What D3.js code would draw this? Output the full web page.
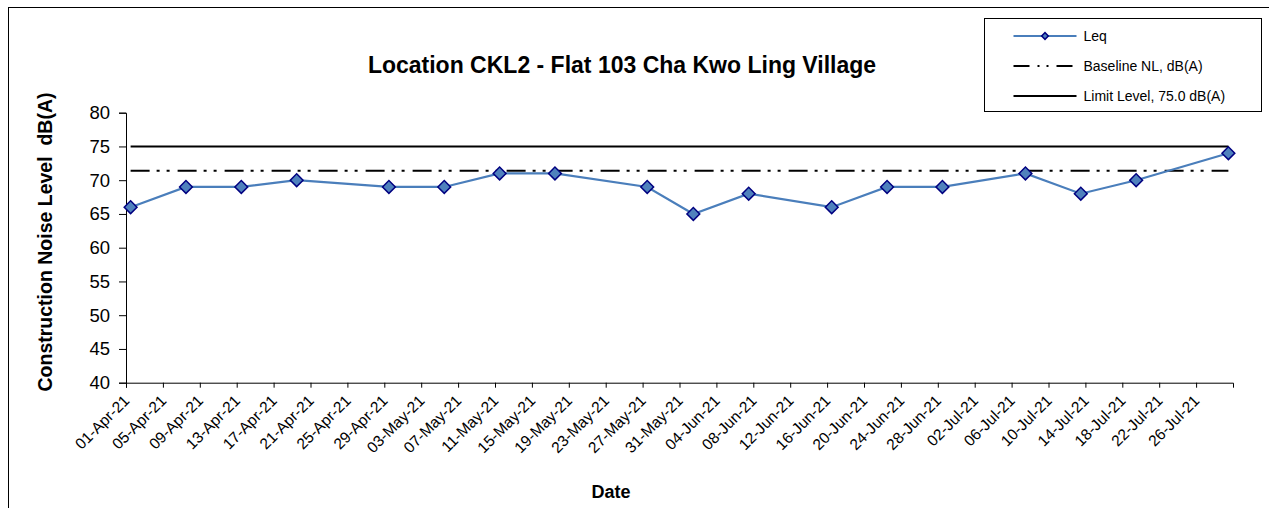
<!DOCTYPE html>
<html>
<head>
<meta charset="utf-8">
<script src="https://cdn.jsdelivr.net/npm/d3@7"></script>
<style>
  body { margin: 0; background: #fff; }
  text { font-family: "Liberation Sans", Arial, sans-serif; fill: #000; }
</style>
</head>
<body>
<div class="chartContainer"></div>
<script>
// measurement dates and Leq readings, dB(A)
var dates = ["01-Apr-21", "07-Apr-21", "13-Apr-21", "19-Apr-21", "29-Apr-21", "05-May-21",
             "11-May-21", "17-May-21", "27-May-21", "01-Jun-21", "07-Jun-21", "16-Jun-21",
             "22-Jun-21", "28-Jun-21", "07-Jul-21", "13-Jul-21", "19-Jul-21", "29-Jul-21"];
var leq = [66, 69, 69, 70, 69, 69, 71, 71, 69, 65, 68, 66, 69, 69, 71, 68, 70, 74];
var baselineLevel = 71.4;
var limitLevel = 75.0;

var yTicks = [40, 45, 50, 55, 60, 65, 70, 75, 80];
var xTickLabels = ["01-Apr-21", "05-Apr-21", "09-Apr-21", "13-Apr-21", "17-Apr-21", "21-Apr-21",
                   "25-Apr-21", "29-Apr-21", "03-May-21", "07-May-21", "11-May-21", "15-May-21",
                   "19-May-21", "23-May-21", "27-May-21", "31-May-21", "04-Jun-21", "08-Jun-21",
                   "12-Jun-21", "16-Jun-21", "20-Jun-21", "24-Jun-21", "28-Jun-21", "02-Jul-21",
                   "06-Jul-21", "10-Jul-21", "14-Jul-21", "18-Jul-21", "22-Jul-21", "26-Jul-21"];
var xDomain = ["01-Apr-21", "30-Jul-21"];

var legendLabels = ["Leq", "Baseline NL, dB(A)", "Limit Level, 75.0 dB(A)"];

var w = 1269,
    h = 508,
    plotLeft = 126, plotRight = 1233,
    plotTop = 112.7, plotBottom = 382.7;

var parse = d3.utcParse("%d-%b-%y");
var fmt = d3.utcFormat("%d-%b-%y");
// points sit in the middle of their day slot
function mid(d) { return d3.utcHour.offset(parse(d), 12); }

var x = d3.scaleUtc()
  .domain(xDomain.map(parse))
  .range([plotLeft, plotRight]);

var y = d3.scaleLinear()
  .domain([40, 80])
  .range([plotBottom, plotTop]);

var svg = d3.select(".chartContainer")
  .append("svg")
  .attr("width", w)
  .attr("height", h);

// outer chart border
svg.append("rect")
  .attr("x", 8.5)
  .attr("y", 7.5)
  .attr("width", w)
  .attr("height", h)
  .attr("fill", "none")
  .attr("stroke", "#000")
  .attr("stroke-width", 1);

// axes
var axisBottom = d3.axisBottom(x)
  .tickValues(xTickLabels.map(parse))
  .tickFormat(fmt)
  .tickSize(5)
  .tickSizeOuter(5);

var axisLeft = d3.axisLeft(y)
  .tickValues(yTicks)
  .tickSize(7)
  .tickSizeOuter(7)
  .tickPadding(9);

var gx = svg.append("g")
  .attr("transform", "translate(0," + plotBottom + ")")
  .call(axisBottom);

gx.selectAll(".tick text")
  .attr("font-size", 15.5)
  .attr("font-family", "'Liberation Sans', Arial, sans-serif")
  .attr("text-anchor", "end")
  .attr("dy", "0.35em")
  .attr("transform", "translate(0,15) rotate(-45)")
  .attr("y", 0)
  .attr("x", 0);

var gy = svg.append("g")
  .attr("transform", "translate(" + plotLeft + ",0)")
  .call(axisLeft);

gy.selectAll(".tick text")
  .attr("font-size", 18.5)
  .attr("font-family", "'Liberation Sans', Arial, sans-serif");

svg.selectAll(".domain, .tick line")
  .attr("stroke", "#000")
  .attr("stroke-width", 1);

// limit and baseline lines span the monitoring period
var first = mid(dates[0]),
    last = mid(dates[dates.length - 1]);

svg.append("line")
  .attr("x1", x(first)).attr("x2", x(last))
  .attr("y1", y(limitLevel)).attr("y2", y(limitLevel))
  .attr("stroke", "#000")
  .attr("stroke-width", 2);

svg.append("line")
  .attr("x1", x(first)).attr("x2", x(last))
  .attr("y1", y(baselineLevel)).attr("y2", y(baselineLevel))
  .attr("stroke", "#000")
  .attr("stroke-width", 2.2)
  .attr("stroke-dasharray", "19,7,3,7,3,8");

// Leq series
var line = d3.line()
  .x(function (d, i) { return x(mid(dates[i])); })
  .y(function (d) { return y(d); });

svg.append("path")
  .datum(leq)
  .attr("d", line)
  .attr("fill", "none")
  .attr("stroke", "#4A7EBB")
  .attr("stroke-width", 2.2);

var diamond = d3.symbol().type(d3.symbolSquare).size(82);

svg.selectAll(".marker")
  .data(leq)
  .enter()
    .append("path")
      .attr("class", "marker")
      .attr("d", diamond)
      .attr("transform", function (d, i) {
        return "translate(" + x(mid(dates[i])) + "," + y(d) + ") rotate(45)";
      })
      .attr("fill", "#4F81BD")
      .attr("stroke", "#000080")
      .attr("stroke-width", 1.5);

// titles
svg.append("text")
  .attr("x", 622)
  .attr("y", 73)
  .attr("text-anchor", "middle")
  .attr("font-weight", "bold")
  .attr("font-size", 23)
  .text("Location CKL2 - Flat 103 Cha Kwo Ling Village");

svg.append("text")
  .attr("transform", "translate(52,242) rotate(-90)")
  .attr("text-anchor", "middle")
  .attr("font-weight", "bold")
  .attr("font-size", 19.5)
  .attr("xml:space", "preserve")
  .text("Construction Noise Level  dB(A)");

svg.append("text")
  .attr("x", 611)
  .attr("y", 498)
  .attr("text-anchor", "middle")
  .attr("font-weight", "bold")
  .attr("font-size", 18)
  .text("Date");

// legend
var legend = svg.append("g")
  .attr("transform", "translate(984.5,18.5)");

legend.append("rect")
  .attr("width", 277)
  .attr("height", 93)
  .attr("fill", "#fff")
  .attr("stroke", "#000")
  .attr("stroke-width", 1);

var rows = legend.selectAll(".row")
  .data(legendLabels)
  .enter()
    .append("g")
      .attr("class", "row")
      .attr("transform", function (d, i) { return "translate(0," + (17.5 + i * 30) + ")"; });

rows.append("line")
  .attr("x1", 29).attr("x2", 92)
  .attr("stroke", function (d, i) { return i === 0 ? "#4A7EBB" : "#000"; })
  .attr("stroke-width", 2)
  .attr("stroke-dasharray", function (d, i) { return i === 1 ? "16,8,2,7,2,8" : null; });

legend.append("path")
  .attr("d", d3.symbol().type(d3.symbolSquare).size(22))
  .attr("transform", "translate(60.5,17.5) rotate(45)")
  .attr("fill", "#4F81BD")
  .attr("stroke", "#000080")
  .attr("stroke-width", 1.5);

rows.append("text")
  .attr("x", 99)
  .attr("dy", "0.35em")
  .attr("font-size", 14)
  .text(function (d) { return d; });
</script>
</body>
</html>
